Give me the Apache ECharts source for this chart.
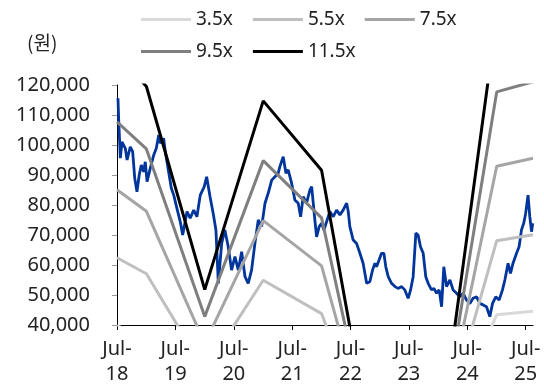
<!DOCTYPE html>
<html>
<head>
<meta charset="utf-8">
<script src="https://cdn.jsdelivr.net/npm/echarts@6/dist/echarts.min.js"></script>
<style>
  html, body { margin: 0; padding: 0; background: #fff; }
  #chart { width: 544px; height: 387px; }
</style>
</head>
<body>
<div id="chart"></div>
<script>
// 주가 (원)
var priceDates = [
  '2018-07-07','2018-07-12','2018-07-22','2018-08-01','2018-08-22','2018-09-02','2018-09-22','2018-10-07','2018-10-20','2018-11-03',
  '2018-11-17','2018-11-30','2018-12-15','2018-12-25','2019-01-05','2019-01-25','2019-02-16','2019-03-04','2019-03-19','2019-03-29',
  '2019-04-19','2019-04-29','2019-05-20','2019-06-06','2019-06-21','2019-07-11','2019-08-01','2019-08-16','2019-08-28','2019-09-12',
  '2019-10-02','2019-10-24','2019-11-13','2019-12-04','2019-12-29','2020-01-13','2020-02-03','2020-02-23','2020-03-11','2020-03-26',
  '2020-04-16','2020-05-06','2020-05-27','2020-06-17','2020-07-08','2020-07-29','2020-08-19','2020-09-09','2020-09-29','2020-10-20',
  '2020-11-10','2020-12-01','2020-12-22','2021-01-12','2021-02-01','2021-02-23','2021-03-15','2021-04-05','2021-04-15','2021-05-06',
  '2021-05-23','2021-06-06','2021-06-28','2021-07-18','2021-08-08','2021-08-23','2021-09-08','2021-09-29','2021-10-20','2021-10-31',
  '2021-11-10','2021-11-20','2021-12-01','2021-12-17','2022-01-01','2022-01-16','2022-02-05','2022-02-22','2022-03-15','2022-04-05',
  '2022-04-26','2022-05-16','2022-06-07','2022-06-17','2022-06-27','2022-07-18','2022-08-08','2022-08-29','2022-09-18','2022-10-10',
  '2022-10-30','2022-11-16','2022-12-01','2022-12-11','2022-12-27','2023-01-11','2023-01-26','2023-02-07','2023-02-22','2023-03-15',
  '2023-04-05','2023-04-25','2023-05-17','2023-06-06','2023-06-27','2023-07-12','2023-07-28','2023-08-14','2023-08-28','2023-09-12',
  '2023-09-29','2023-10-15','2023-10-30','2023-11-20','2023-12-05','2023-12-22','2024-01-07','2024-01-22','2024-02-05','2024-02-22',
  '2024-03-14','2024-04-03','2024-04-25','2024-05-15','2024-06-05','2024-06-26','2024-07-17','2024-08-06','2024-08-28','2024-09-17',
  '2024-10-08','2024-10-29','2024-11-19','2024-12-06','2024-12-26','2025-01-16','2025-02-06','2025-02-21','2025-03-13','2025-03-28',
  '2025-04-13','2025-05-05','2025-05-21','2025-06-05','2025-06-19','2025-07-01','2025-07-16','2025-07-27','2025-08-07','2025-08-14'
];
var priceValues = [
  115600,107800,95600,101000,98900,95000,99400,97800,88900,84400,
  90000,93300,91100,94400,87800,92200,96700,98900,103300,100600,
  102200,97800,91100,85600,83300,78900,74400,70000,69400,77800,
  75600,78300,76100,83300,86100,89400,82800,77200,71700,53900,
  67200,71700,66100,58300,62800,58300,64400,56100,53900,58300,
  67200,75000,72800,80600,83900,88300,89400,90600,92800,96100,
  90600,91700,87200,81700,80600,76100,82800,80600,85000,86100,
  80600,75000,69400,72800,73900,71700,75000,77800,76100,78300,
  76700,78300,80600,77800,72800,68300,67200,63900,60600,53900,
  54400,58300,60600,59400,61700,63900,63900,59400,56100,53900,
  52800,52200,52800,51700,48900,51700,56100,70600,70000,66100,
  63900,56100,53900,51700,52200,50600,51700,46100,59400,52800,
  55000,51700,50600,49400,50600,48300,47200,48900,49400,47200,
  46700,46100,42800,47200,49400,48300,51700,55000,60600,57200,
  60600,63900,66100,71700,73900,77200,83300,76100,71100,73900
];

// PER 밴드
var bandDates = ['2018-07-01','2019-01-01','2020-01-01','2021-01-01','2022-01-01','2023-01-01','2024-01-01','2025-01-01','2025-08-16'];
var band35 = [39700, 36400, 15800, 34900, 27900, -4900, -400, 43400, 44600];
var band55 = [62400, 57100, 24800, 54900, 43800, -7700, -600, 68100, 70100];
var band75 = [85100, 77900, 33800, 74800, 59700, -10500, -800, 92900, 95600];
var band95 = [107700, 98700, 42800, 94800, 75700, -13300, -1000, 117700, 121100];
var band115 = [130400, 119500, 51800, 114700, 91600, -16100, -1200, 142500, 146600];

var xTickDates = ['2018-07-01','2019-07-01','2020-07-01','2021-07-01','2022-07-01','2023-07-01','2024-07-01','2025-07-01'];

var FONT = 'Noto Sans';

function ts(d) { return Date.parse(d + 'T00:00:00Z'); }
function pairs(dates, vals) {
  return dates.map(function (d, i) { return [ts(d), vals[i]]; });
}

function band(name, vals, color, width) {
  return {
    name: name, type: 'line', data: pairs(bandDates, vals),
    symbol: 'none', clip: true,
    lineStyle: { color: color, width: width },
    itemStyle: { color: color },
    z: 3
  };
}

var chart = echarts.init(document.getElementById('chart'), null, { renderer: 'canvas' });
var tickVals = xTickDates.map(ts);

var legendBase = {
  left: 136, icon: 'rect', itemWidth: 50, itemHeight: 3, itemGap: 20,
  textStyle: { fontFamily: FONT, fontSize: 19, color: '#222' }
};

chart.setOption({
  animation: false,
  backgroundColor: '#fff',
  grid: { left: 117, right: 11, top: 85, bottom: 62, containLabel: false },
  graphic: [{
    type: 'text', left: 27, top: 33,
    style: { text: '(원)', font: '19px "Noto Sans CJK KR"', fill: '#222' }
  }],
  legend: [
    Object.assign({}, legendBase, { data: ['3.5x', '5.5x', '7.5x'], top: 5 }),
    Object.assign({}, legendBase, { data: ['9.5x', '11.5x'], top: 37 })
  ],
  xAxis: {
    type: 'value',
    min: ts('2018-07-01'), max: ts('2025-08-16'),
    splitLine: { show: false },
    axisLine: { lineStyle: { color: '#000', width: 1 } },
    axisTick: { show: true, customValues: tickVals, length: 5, lineStyle: { color: '#000' } },
    axisLabel: {
      customValues: tickVals, margin: 12,
      fontFamily: FONT, fontSize: 20, color: '#222', lineHeight: 25,
      formatter: function (v) {
        var y = new Date(v).getUTCFullYear();
        return 'Jul-\n' + String(y).slice(2);
      }
    }
  },
  yAxis: {
    type: 'value', min: 40000, max: 120000, interval: 10000,
    splitLine: { show: false },
    axisLine: { show: true, lineStyle: { color: '#000', width: 1 } },
    axisTick: { show: true, length: 5, lineStyle: { color: '#999' } },
    axisLabel: {
      margin: 27, fontFamily: FONT, fontSize: 20, color: '#222',
      formatter: function (v) { return v.toLocaleString('en-US'); }
    }
  },
  series: [
    {
      name: 'price', type: 'line', data: pairs(priceDates, priceValues),
      symbol: 'none', lineStyle: { color: '#00359c', width: 2.8 }, z: 2
    },
    band('3.5x', band35, '#d9d9d9', 3),
    band('5.5x', band55, '#bfbfbf', 3),
    band('7.5x', band75, '#a5a5a5', 3),
    band('9.5x', band95, '#7f7f7f', 3),
    band('11.5x', band115, '#000000', 3)
  ]
});
</script>
</body>
</html>
